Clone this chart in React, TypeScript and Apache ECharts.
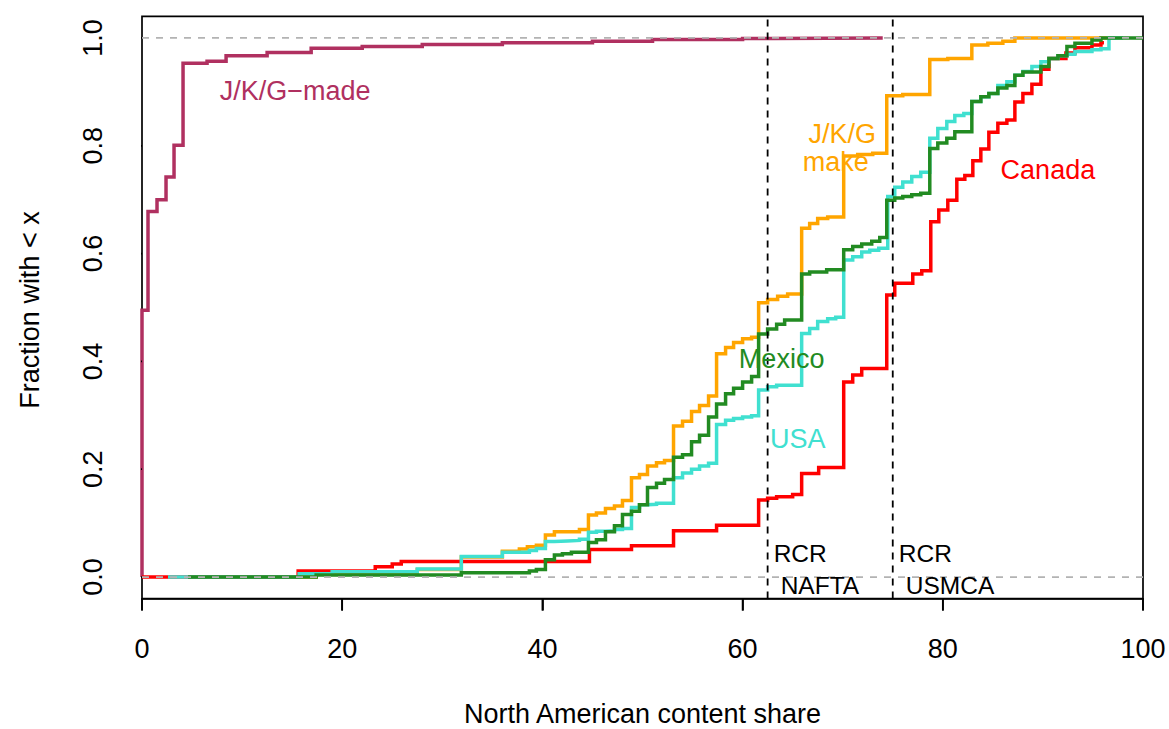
import React, { useEffect, useRef } from "react";
import * as echarts from "echarts";

// ---- data (empirical CDF steps: [content share, fraction with < x]) ----
const jkgMade: number[][] = [
  [0, 0], [0, 0.495], [0.6, 0.678], [1.5, 0.7], [2.4, 0.742], [3.2, 0.801], [4.1, 0.953],
  [6.5, 0.957], [8.4, 0.967], [12.5, 0.973], [16.9, 0.981], [22, 0.984], [28, 0.988],
  [36, 0.991], [45, 0.994], [51, 0.997], [60, 0.999], [63, 1.0], [74, 1.0],
];
const jkgMake: number[][] = [
  [8, 0], [17.4, 0.008], [27.5, 0.014], [31.9, 0.037], [36.0, 0.048], [37.7, 0.052],
  [38.5, 0.056], [39.4, 0.059], [40.3, 0.078], [41.2, 0.084], [43.7, 0.088], [44.6, 0.115],
  [45.4, 0.119], [46.3, 0.127], [47.2, 0.132], [48.0, 0.142], [48.9, 0.184], [49.7, 0.19],
  [50.5, 0.206], [51.4, 0.212], [52.2, 0.216], [53.1, 0.28], [54.0, 0.289], [54.9, 0.307],
  [55.7, 0.318], [56.6, 0.336], [57.4, 0.414], [58.3, 0.426], [59.1, 0.435], [60.0, 0.442],
  [60.9, 0.445], [61.6, 0.509], [62.5, 0.515], [63.5, 0.521], [64.5, 0.525], [65.9, 0.647],
  [66.7, 0.656], [67.5, 0.665], [68.5, 0.668], [70.1, 0.781], [71.5, 0.784], [73.0, 0.786],
  [74.4, 0.893], [76.0, 0.895], [78.7, 0.96], [80.5, 0.962], [82.9, 0.987], [84.5, 0.99],
  [86.0, 0.994], [87.2, 1.0], [96.4, 1.0],
];
const canada: number[][] = [
  [0, 0], [15.6, 0.011], [23.3, 0.019], [25.0, 0.024], [25.9, 0.029], [44.7, 0.051],
  [48.9, 0.058], [53.1, 0.086], [57.4, 0.096], [61.6, 0.143], [62.5, 0.146], [63.4, 0.149],
  [65.0, 0.153], [65.9, 0.192], [67.6, 0.203], [70.1, 0.362], [71.0, 0.375], [71.9, 0.387],
  [74.4, 0.523], [75.2, 0.545], [77.0, 0.562], [77.9, 0.568], [78.8, 0.659], [79.6, 0.681],
  [80.5, 0.699], [81.4, 0.738], [82.2, 0.745], [83.0, 0.772], [83.8, 0.794], [84.6, 0.825],
  [85.5, 0.842], [86.4, 0.848], [87.2, 0.881], [88.0, 0.897], [88.9, 0.914], [89.8, 0.942],
  [90.6, 0.962], [92.3, 0.972], [93.2, 0.982], [94.9, 0.987], [95.8, 0.991], [96.1, 0.991],
];
const usa: number[][] = [
  [2.6, 0], [15.7, 0.006], [19.0, 0.01], [27.5, 0.015], [31.9, 0.038], [36.0, 0.046],
  [38.7, 0.049], [39.4, 0.053], [40.3, 0.066], [41.2, 0.067], [42.5, 0.068], [43.7, 0.07],
  [44.6, 0.083], [45.4, 0.085], [46.3, 0.086], [47.2, 0.088], [48.0, 0.09], [48.9, 0.129],
  [49.7, 0.134], [50.5, 0.135], [51.4, 0.137], [53.1, 0.184], [54.0, 0.193], [54.9, 0.2],
  [55.7, 0.206], [56.6, 0.211], [57.4, 0.283], [58.3, 0.291], [59.1, 0.294], [60.0, 0.297],
  [60.9, 0.299], [61.6, 0.347], [62.5, 0.353], [63.4, 0.356], [65.9, 0.452], [66.7, 0.461],
  [67.5, 0.474], [68.5, 0.479], [69.3, 0.482], [70.1, 0.588], [71.0, 0.594], [71.9, 0.603],
  [72.7, 0.606], [73.6, 0.61], [74.5, 0.706], [75.2, 0.723], [76.0, 0.733], [76.9, 0.743],
  [77.8, 0.751], [78.7, 0.814], [79.5, 0.832], [80.4, 0.845], [81.2, 0.856], [82.1, 0.86],
  [82.9, 0.882], [83.8, 0.891], [84.6, 0.897], [85.5, 0.912], [86.4, 0.919], [87.2, 0.931],
  [88.0, 0.938], [88.9, 0.947], [89.8, 0.956], [90.6, 0.962], [91.5, 0.967], [92.4, 0.97],
  [93.2, 0.975], [94.9, 0.978], [95.8, 0.98], [96.6, 1.0], [98, 1.0],
];
const mexico: number[][] = [
  [4.6, 0], [17.4, 0.004], [31.9, 0.008], [38.7, 0.011], [39.4, 0.014], [40.3, 0.032],
  [41.2, 0.041], [42.0, 0.043], [42.9, 0.046], [44.6, 0.064], [45.4, 0.069], [46.3, 0.084],
  [47.2, 0.095], [48.0, 0.116], [48.9, 0.122], [49.7, 0.134], [50.5, 0.166], [51.4, 0.174],
  [52.2, 0.181], [53.1, 0.222], [54.0, 0.227], [54.9, 0.251], [55.7, 0.263], [56.6, 0.297],
  [57.4, 0.321], [58.3, 0.34], [59.1, 0.35], [60.0, 0.362], [60.9, 0.372], [61.6, 0.451],
  [62.5, 0.46], [63.4, 0.469], [64.2, 0.477], [65.9, 0.562], [66.7, 0.566], [68.4, 0.57],
  [70.1, 0.607], [71.0, 0.613], [71.9, 0.618], [72.9, 0.623], [73.7, 0.63], [74.4, 0.699],
  [75.2, 0.703], [76.0, 0.706], [76.9, 0.709], [77.8, 0.712], [78.7, 0.795], [79.5, 0.805],
  [80.4, 0.814], [81.2, 0.826], [82.9, 0.882], [83.8, 0.891], [84.6, 0.897], [85.5, 0.907],
  [86.4, 0.912], [87.2, 0.931], [88.0, 0.937], [89.8, 0.947], [90.6, 0.962], [91.5, 0.967],
  [92.4, 0.984], [93.2, 0.99], [94.9, 0.996], [95.8, 1.0], [100, 1.0],
];

const xTicks = [0, 20, 40, 60, 80, 100];
const yTicks = [0, 0.2, 0.4, 0.6, 0.8, 1.0];
const refLevels = [0, 1]; // grey dashed horizontals
const rules = [62.5, 75]; // RCR thresholds (NAFTA, USMCA)

const X_MIN = 0, X_MAX = 100, Y_MIN = -0.04, Y_MAX = 1.04;

const COL = {
  made: "#B03060",
  make: "#FFA500",
  canada: "#FF0000",
  usa: "#40E0D0",
  mexico: "#228B22",
};
const FONT = "'Liberation Sans', Arial, Helvetica, sans-serif";

// layout
const W = 1169, H = 729;
const GRID = { left: 142, right: 26, top: 16.4, bottom: 130.4 };
const TICK_LEN = 12;
const PLOT_W = W - GRID.left - GRID.right;
const PLOT_H = H - GRID.top - GRID.bottom;
const TICK_DY = (TICK_LEN * (Y_MAX - Y_MIN)) / PLOT_H; // tick length in y units
const TICK_DX = (TICK_LEN * (X_MAX - X_MIN)) / PLOT_W; // tick length in x units

const labels = [
  { text: "J/K/G\u2212made", x: 15.3, y: 0.902, color: COL.made, size: 27, align: "center" },
  { text: "J/K/G", x: 69.95, y: 0.822, color: COL.make, size: 27, align: "center" },
  { text: "make", x: 69.3, y: 0.77, color: COL.make, size: 27, align: "center" },
  { text: "Canada", x: 90.5, y: 0.755, color: COL.canada, size: 27, align: "center" },
  { text: "Mexico", x: 63.9, y: 0.405, color: COL.mexico, size: 27, align: "center" },
  { text: "USA", x: 65.5, y: 0.256, color: COL.usa, size: 27, align: "center" },
  { text: "RCR", x: 63.1, y: 0.043, color: "#000", size: 24.5, align: "left" },
  { text: "NAFTA", x: 63.8, y: -0.015, color: "#000", size: 24.5, align: "left" },
  { text: "RCR", x: 75.6, y: 0.043, color: "#000", size: 24.5, align: "left" },
  { text: "USMCA", x: 76.3, y: -0.015, color: "#000", size: 24.5, align: "left" },
];

function stepSeries(name: string, data: number[][], color: string, z: number) {
  return {
    name,
    type: "line",
    step: "end",
    data,
    showSymbol: false,
    symbol: "none",
    z,
    lineStyle: { color, width: 3.5, cap: "butt", join: "miter" },
    emphasis: { disabled: true },
  };
}

function segment(data: number[][], z: number) {
  return {
    type: "line",
    data,
    clip: false,
    showSymbol: false,
    symbol: "none",
    silent: true,
    z,
    lineStyle: { color: "#000", width: 1.7, cap: "butt" },
    emphasis: { disabled: true },
  };
}

export default function App() {
  const ref = useRef<HTMLDivElement>(null);
  useEffect(() => {
    const chart = echarts.init(ref.current!, null, { renderer: "svg" });
    const series: any[] = [
      stepSeries("J/K/G-made", jkgMade, COL.made, 2),
      stepSeries("J/K/G make", jkgMake, COL.make, 3),
      stepSeries("Canada", canada, COL.canada, 4),
      stepSeries("USA", usa, COL.usa, 5),
      stepSeries("Mexico", mexico, COL.mexico, 6),
    ];
    refLevels.forEach((lv) =>
      series.push({
        type: "line",
        data: [[X_MIN, lv], [X_MAX, lv]],
        showSymbol: false,
        symbol: "none",
        z: 7,
        lineStyle: { color: "#B3B3B3", width: 1.8, type: [7, 7] },
        emphasis: { disabled: true },
      })
    );
    rules.forEach((r) =>
      series.push({
        type: "line",
        data: [[r, Y_MIN], [r, Y_MAX]],
        showSymbol: false,
        symbol: "none",
        z: 8,
        lineStyle: { color: "#000", width: 1.8, type: [7, 6] },
        emphasis: { disabled: true },
      })
    );
    series.push({
      type: "scatter",
      symbolSize: 0,
      silent: true,
      z: 9,
      itemStyle: { color: "transparent" },
      data: labels.map((l) => ({
        value: [l.x, l.y],
        label: {
          show: true,
          position: "inside",
          formatter: l.text,
          color: l.color,
          fontSize: l.size,
          fontFamily: FONT,
          align: l.align,
          verticalAlign: "middle",
          textBorderWidth: 0,
          textBorderColor: "transparent",
          opacity: 1,
        },
      })),
    });
    // outward tick marks, drawn through the axes' scales
    xTicks.forEach((v) => series.push(segment([[v, Y_MIN], [v, Y_MIN - TICK_DY]], 10)));
    yTicks.forEach((v) => series.push(segment([[X_MIN, v], [X_MIN - TICK_DX, v]], 10)));

    chart.setOption({
      animation: false,
      backgroundColor: "#fff",
      grid: {
        ...GRID,
        show: true,
        borderColor: "#000",
        borderWidth: 1.7,
        backgroundColor: "transparent",
      },
      xAxis: {
        type: "value",
        min: X_MIN,
        max: X_MAX,
        interval: 20,
        axisLine: { show: true, onZero: false, lineStyle: { color: "#000", width: 1.7 } },
        axisTick: { show: true, inside: false, length: TICK_LEN, lineStyle: { color: "#000", width: 1.7 } },
        splitLine: { show: false },
        axisLabel: {
          customValues: xTicks,
          margin: 37,
          fontSize: 27,
          color: "#000",
          fontFamily: FONT,
        },
      },
      yAxis: {
        type: "value",
        min: Y_MIN,
        max: Y_MAX,
        axisLine: { show: false, onZero: false },
        axisTick: { show: false },
        splitLine: { show: false },
        axisLabel: {
          customValues: yTicks,
          formatter: (v: number) => v.toFixed(1),
          rotate: 90,
          margin: 36,
          fontSize: 27,
          color: "#000",
          fontFamily: FONT,
        },
      },
      graphic: [
        {
          type: "text",
          x: 642.5,
          y: 714,
          style: {
            text: "North American content share",
            fontSize: 27,
            fontFamily: FONT,
            fill: "#000",
            align: "center",
            verticalAlign: "middle",
          },
        },
        {
          type: "text",
          x: 30,
          y: 310,
          rotation: Math.PI / 2,
          style: {
            text: "Fraction with < x",
            fontSize: 27,
            fontFamily: FONT,
            fill: "#000",
            align: "center",
            verticalAlign: "middle",
          },
        },
      ],
      series,
    });

    return () => chart.dispose();
  }, []);
  return (
    <div
      ref={ref}
      style={{ position: "absolute", left: 0, top: 0, width: W, height: H, background: "#fff" }}
    />
  );
}
